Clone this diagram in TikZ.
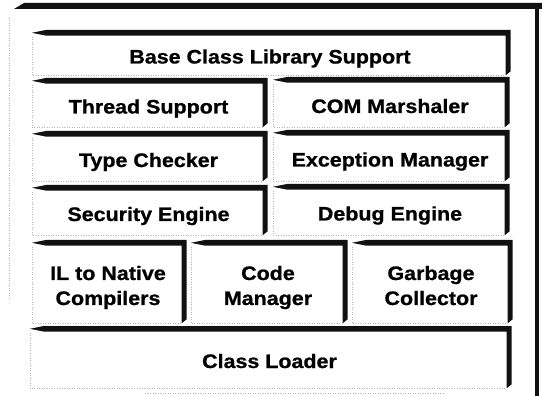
\documentclass[tikz,border=0pt]{standalone}
\usepackage{fontspec}
\newfontfamily\lblfont{Liberation Sans}[FakeStretch=1.1, BoldFeatures={FakeBold=0.9}]
\definecolor{ink}{HTML}{111111}
\definecolor{faintink}{HTML}{B4B4B4}

% two centred lines, 25pt apart, baseline on the last line
\newcommand\twolines[2]{\vbox{\baselineskip=25pt\halign{\hfil##\hfil\cr#1\cr#2\cr}}}

% heavy top and right rule of a layer, faint left and bottom rule
\newcommand\shelf[1]{%
  \fill[ink] (#1.north west)
    -- ([xshift=14pt,yshift=2.8pt]#1.north west)
    -- ([xshift=2.5pt,yshift=2.8pt]#1.north east)
    -- ([xshift=2.5pt,yshift=4pt]#1.south east)
    -- ([xshift=-2.5pt]#1.south east)
    -- ([xshift=-2.5pt,yshift=-2.8pt]#1.north east)
    -- ([xshift=14pt,yshift=-2.8pt]#1.north west) -- cycle;
  \draw[faintedge] ([yshift=-4pt]#1.north west) -- (#1.south west)
    -- ([xshift=-3pt]#1.south east);
}

\tikzset{
  layer/.style={inner sep=0pt, font=\lblfont\bfseries\fontsize{19.5}{25}\selectfont,
    text=black, text height=19pt, text depth=0pt},
  twolayer/.style={layer, text height=44pt, text depth=0pt},
  faintedge/.style={faintink, line width=0.5pt, dotted},
}

\begin{document}
\begin{tikzpicture}[x=1pt, y=-1pt]
\useasboundingbox[fill=white] (0,0) rectangle (542,396);

% outer frame
\coordinate (frameTL) at (14,6);
\coordinate (frameTR) at (542,6);
\coordinate (frameRT) at (537,3);
\coordinate (frameRB) at (537,396);
\fill[ink] ([yshift=-3pt]frameTL) -- ([xshift=10pt,yshift=3pt]frameTL)
  -- ([yshift=3.2pt]frameTR) -- ([yshift=-3pt]frameTR) -- cycle;
\draw[ink, line width=3.6pt] (frameRT) -- (frameRB);
\coordinate (frameLT) at (9,18);
\coordinate (frameLB) at (9,300);
\draw[faintedge] (frameLT) -- (frameLB);
\coordinate (frameBL) at (145,393);
\coordinate (frameBR) at (443,393);
\draw[faintedge] (frameBL) -- (frameBR);

% layers
\node[layer, minimum width=476pt, minimum height=42pt] (base) at (270,54) {Base Class Library Support};
\node[layer, minimum width=233pt, minimum height=46pt] (thread) at (148.5,104) {Thread Support};
\node[layer, minimum width=234pt, minimum height=47pt] (com) at (390,103.5) {COM Marshaler};
\node[layer, minimum width=233pt, minimum height=47pt] (type) at (148.5,157.5) {Type Checker};
\node[layer, minimum width=234pt, minimum height=48pt] (exc) at (390,157) {Exception Manager};
\node[layer, minimum width=233pt, minimum height=47pt] (sec) at (148.5,211.5) {Security Engine};
\node[layer, minimum width=234pt, minimum height=48pt] (dbg) at (390,211) {Debug Engine};
\node[twolayer, minimum width=152pt, minimum height=80pt] (il) at (108,283) {\twolines{IL to Native}{Compilers}};
\node[twolayer, minimum width=154pt, minimum height=80pt] (code) at (268,283) {\twolines{Code}{Manager}};
\node[twolayer, minimum width=158pt, minimum height=80pt] (gc) at (431,283) {\twolines{Garbage}{Collector}};
\node[layer, minimum width=479pt, minimum height=59pt] (cl) at (269.5,358.5) {Class Loader};

\foreach \n in {base,thread,com,type,exc,sec,dbg,il,code,gc,cl} {\shelf{\n}}
\end{tikzpicture}
\end{document}
